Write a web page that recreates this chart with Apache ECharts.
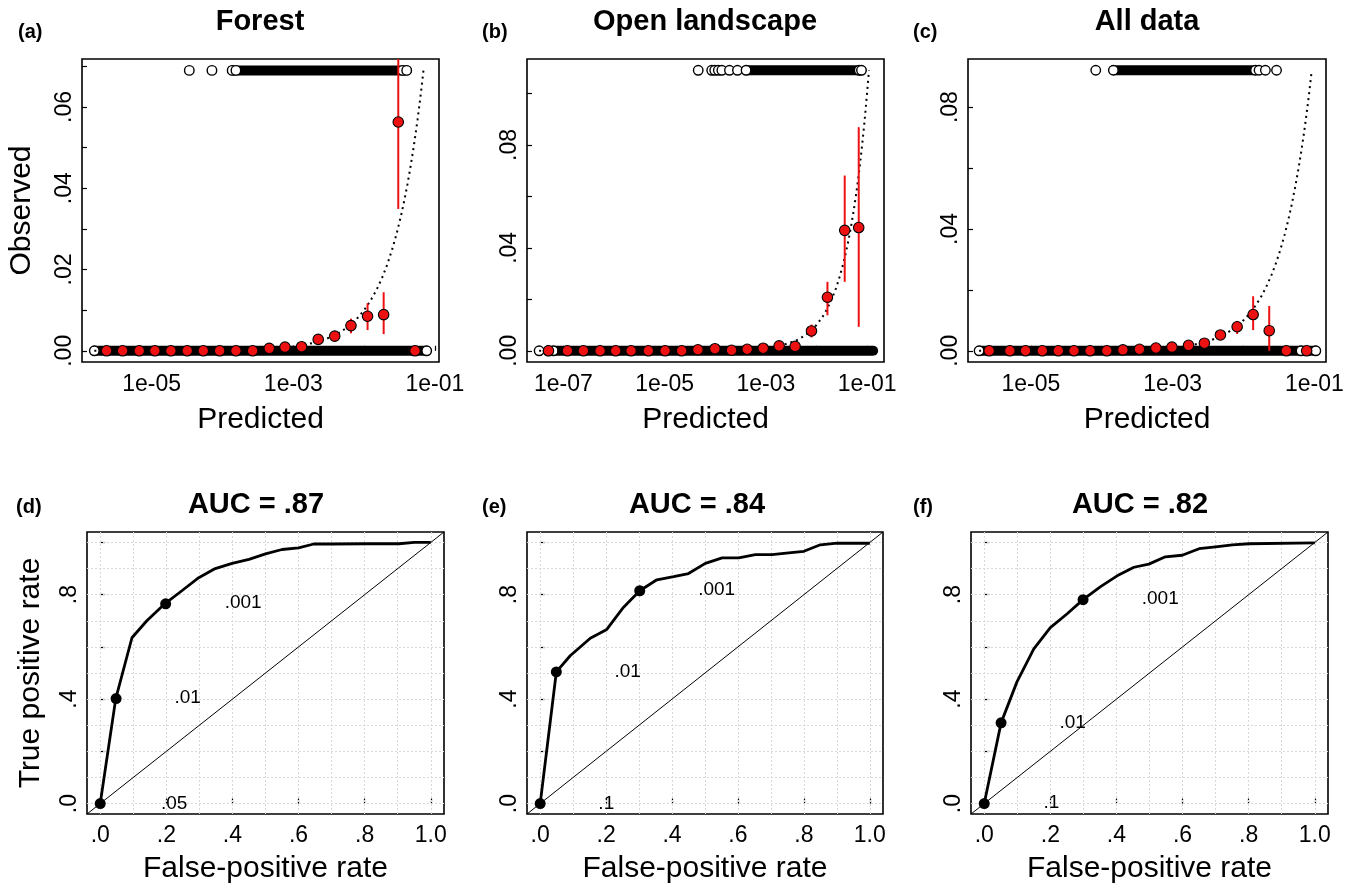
<!DOCTYPE html>
<html>
<head>
<meta charset="utf-8">
<title>Calibration and ROC</title>
<script src="https://cdn.jsdelivr.net/npm/echarts@6/dist/echarts.min.js"></script>
<style>
  html, body { margin: 0; padding: 0; background: #fff; }
  #chart { width: 1354px; height: 885px; }
</style>
</head>
<body>
<div id="chart"></div>
<script>
// ---------- (a) Forest: binned calibration ----------
const binPredA = [2.31e-6, 3.89e-6, 6.68e-6, 1.11e-5, 1.87e-5, 3.18e-5, 5.36e-5, 9.12e-5, 1.55e-4, 2.67e-4,
                  4.58e-4, 7.64e-4, 1.31e-3, 2.25e-3, 3.85e-3, 6.53e-3, 1.12e-2, 1.89e-2, 3.04e-2, 5.24e-2];
const binObsA  = [0, 0, 0, 0, 0, 0, 0, 0, 0, 0,
                  0.0006, 0.0009, 0.0010, 0.0028, 0.0036, 0.0062, 0.0085, 0.0089, 0.0563, 0];
const errLoA   = [null, null, null, null, null, null, null, null, null, null,
                  null, null, null, null, 0.0025, 0.0043, 0.0051, 0.0041, 0.0349, null];
const errHiA   = [null, null, null, null, null, null, null, null, null, null,
                  null, null, null, null, 0.0048, 0.0079, 0.0117, 0.0144, 0.0718, null];
const presRowA = 0.069;
const presBandA = [1.37e-4, 0.040];
const presPtsA  = [3.4e-5, 7.1e-5, 1.37e-4, 1.55e-4, 0.035, 0.040];
const absBandA  = [1.55e-6, 0.0766];
const absPtsA   = [1.55e-6, 0.0766];
const oneToOneA = [1.55e-6, 1e-4, 1e-3, 0.002, 0.003, 0.004, 0.005, 0.006, 0.008, 0.010, 0.012, 0.015,
                   0.018, 0.021, 0.025, 0.029, 0.033, 0.037, 0.041, 0.045, 0.049, 0.053, 0.057, 0.061, 0.065, 0.069];

// ---------- (b) Open landscape ----------
const binPredB = [5.06e-8, 1.20e-7, 2.48e-7, 5.30e-7, 1.08e-6, 2.17e-6, 4.76e-6, 1.02e-5, 2.17e-5, 4.55e-5,
                  9.86e-5, 2.10e-4, 4.28e-4, 8.85e-4, 1.83e-3, 3.79e-3, 7.98e-3, 1.65e-2, 3.62e-2, 6.85e-2];
const binObsB  = [0, 0, 0, 0, 0, 0, 0, 0, 0, 0.0004,
                  0.0008, 0.0002, 0.0006, 0.0010, 0.0019, 0.0017, 0.0077, 0.0208, 0.0468, 0.0479];
const errLoB   = [null, null, null, null, null, null, null, null, null, null,
                  null, null, null, null, null, null, 0.0052, 0.0138, 0.0268, 0.0093];
const errHiB   = [null, null, null, null, null, null, null, null, null, null,
                  null, null, null, null, null, null, 0.0102, 0.0268, 0.0681, 0.0869];
const presRowB = 0.109;
const presBandB = [4.07e-4, 0.0776];
const presPtsB  = [4.61e-5, 8.51e-5, 9.77e-5, 1.15e-4, 1.35e-4, 1.91e-4, 2.75e-4, 4.07e-4, 0.070, 0.0776];
const absBandB  = [6.3e-8, 0.132];
const absPtsB   = [3.31e-8, 5.0e-8, 6.3e-8];
const oneToOneB = [3.31e-8, 1e-4, 1e-3, 0.002, 0.004, 0.006, 0.008, 0.010, 0.013, 0.016, 0.020, 0.024,
                   0.028, 0.033, 0.038, 0.043, 0.048, 0.054, 0.060, 0.066, 0.072, 0.079, 0.086, 0.093, 0.101, 0.109];

// ---------- (c) All data ----------
const binPredC = [2.58e-6, 5.05e-6, 8.41e-6, 1.45e-5, 2.44e-5, 4.06e-5, 6.84e-5, 1.18e-4, 1.99e-4, 3.41e-4,
                  5.82e-4, 9.79e-4, 1.68e-3, 2.81e-3, 4.73e-3, 8.15e-3, 1.37e-2, 2.31e-2, 4.03e-2, 7.80e-2];
const binObsC  = [0, 0, 0, 0, 0, 0, 0, 0, 0.0003, 0.0005,
                  0.0009, 0.0012, 0.0018, 0.0025, 0.0052, 0.0079, 0.0119, 0.0066, 0, 0];
const errLoC   = [null, null, null, null, null, null, null, null, null, null,
                  null, null, null, null, null, 0.0055, 0.0068, 0.0, null, null];
const errHiC   = [null, null, null, null, null, null, null, null, null, null,
                  null, null, null, null, null, 0.0098, 0.0179, 0.0147, null, null];
const presRowC = 0.0921;
const presBandC = [1.46e-4, 0.0148];
const presPtsC  = [8.24e-5, 1.46e-4, 0.0148, 0.0166, 0.0204, 0.0293];
const absBandC  = [1.86e-6, 0.105];
const absPtsC   = [1.86e-6, 0.065, 0.105];
const oneToOneC = [1.86e-6, 1e-4, 1e-3, 0.002, 0.003, 0.004, 0.005, 0.006, 0.008, 0.010, 0.012, 0.015,
                   0.018, 0.021, 0.025, 0.029, 0.033, 0.038, 0.043, 0.048, 0.054, 0.060, 0.066, 0.072,
                   0.078, 0.085, 0.092];

// tick positions / labels, top row
const xTicksAC  = [1e-5, 1e-4, 1e-3, 1e-2, 1e-1];
const xLabelsAC = [1e-5, 1e-3, 1e-1];
const xTicksB   = [1e-7, 1e-6, 1e-5, 1e-4, 1e-3, 1e-2, 1e-1];
const xLabelsB  = [1e-7, 1e-5, 1e-3, 1e-1];
const yTicksA   = [0, 0.01, 0.02, 0.03, 0.04, 0.05, 0.06, 0.07];
const yLabelsA  = [0, 0.02, 0.04, 0.06];
const yTicksB   = [0, 0.02, 0.04, 0.06, 0.08, 0.10];
const yTicksC   = [0, 0.02, 0.04, 0.06, 0.08];
const yLabelsBC = [0, 0.04, 0.08];

// ---------- ROC curves ----------
const fprD = [0, 0.047, 0.096, 0.141, 0.197, 0.247, 0.298, 0.348, 0.399, 0.45, 0.50, 0.55, 0.60, 0.646, 0.70, 0.80, 0.904, 0.95, 1.0];
const tprD = [0, 0.402, 0.635, 0.700, 0.767, 0.815, 0.865, 0.900, 0.920, 0.935, 0.956, 0.973, 0.979, 0.994, 0.994, 0.995, 0.995, 1.0, 1.0];
const fprE = [0, 0.049, 0.091, 0.152, 0.202, 0.253, 0.302, 0.354, 0.405, 0.45, 0.501, 0.552, 0.602, 0.653, 0.703, 0.754, 0.80, 0.85, 0.901, 1.0];
const tprE = [0, 0.504, 0.566, 0.633, 0.667, 0.752, 0.815, 0.857, 0.869, 0.881, 0.920, 0.941, 0.941, 0.953, 0.953, 0.960, 0.966, 0.991, 0.997, 0.997];
const fprF = [0, 0.051, 0.099, 0.15, 0.20, 0.251, 0.299, 0.352, 0.402, 0.453, 0.498, 0.548, 0.599, 0.65, 0.70, 0.751, 0.801, 1.0];
const tprF = [0, 0.309, 0.466, 0.592, 0.674, 0.727, 0.781, 0.831, 0.872, 0.905, 0.917, 0.945, 0.951, 0.976, 0.983, 0.991, 0.995, 0.998];

// threshold points and their labels
const cutFprD = [0, 0.048, 0.198], cutTprD = [0, 0.402, 0.765];
const cutFprE = [0, 0.049, 0.302], cutTprE = [0, 0.504, 0.815];
const cutFprF = [0, 0.051, 0.299], cutTprF = [0, 0.309, 0.781];
const cutTextD = ['.05', '.01', '.001'];
const cutTextEF = ['.1', '.01', '.001'];
const labXD = [0.225, 0.266, 0.434], labYD = [-0.004, 0.402, 0.767];
const labXE = [0.202, 0.267, 0.537], labYE = [-0.003, 0.504, 0.815];
const labXF = [0.205, 0.269, 0.534], labYF = [0.0, 0.309, 0.781];

const rocTicks  = [0, 0.2, 0.4, 0.6, 0.8, 1.0];
const rocYLabels = [0, 0.4, 0.8];
const rocGridVals = [0, 0.1, 0.2, 0.3, 0.4, 0.5, 0.6, 0.7, 0.8, 0.9, 1.0];
const rocRange = [-0.04, 1.04];

const FONT = '"Liberation Sans", Arial, Helvetica, sans-serif';
const RED = '#ee1111';
const TICK_FS = 23, NAME_FS = 30;

function expLabel(v) {
  const e = Math.round(Math.log10(v));
  return '1e' + (e < 0 ? '-' : '+') + String(Math.abs(e)).padStart(2, '0');
}
function dotLabel(digits) {
  return v => v === 1 ? '1.0' : v.toFixed(digits).replace(/^0/, '');
}

var chart = echarts.init(document.getElementById('chart'), null, { renderer: 'canvas' });

var grids = [], xAxes = [], yAxes = [], series = [];

function calPanel(cfg) {
  var i = grids.length;
  grids.push(Object.assign({ show: true, borderColor: '#000', borderWidth: 1.6, backgroundColor: '#fff' }, cfg.box));
  xAxes.push({
    gridIndex: i, type: 'log', logBase: 10, min: cfg.xRange[0], max: cfg.xRange[1],
    axisLine: { show: false },
    axisTick: { show: true, inside: true, length: 5, customValues: cfg.xTicks, lineStyle: { color: '#000', width: 1.2 } },
    axisLabel: { customValues: cfg.xLabels, formatter: expLabel, color: '#000', fontSize: TICK_FS, fontFamily: FONT, margin: 11 },
    splitLine: { show: false }, minorTick: { show: false },
    name: 'Predicted', nameLocation: 'middle', nameGap: 43,
    nameTextStyle: { color: '#000', fontSize: NAME_FS, fontFamily: FONT }
  });
  yAxes.push({
    gridIndex: i, type: 'value', min: cfg.yRange[0], max: cfg.yRange[1],
    axisLine: { show: false },
    axisTick: { show: true, inside: true, length: 5, customValues: cfg.yTicks, lineStyle: { color: '#000', width: 1.2 } },
    axisLabel: { customValues: cfg.yLabels, formatter: dotLabel(2), rotate: 90, color: '#000', fontSize: TICK_FS, fontFamily: FONT, margin: 6 },
    splitLine: { show: false },
    name: cfg.yName || '', nameLocation: 'middle', nameRotate: 90, nameGap: 45,
    nameTextStyle: { color: '#000', fontSize: NAME_FS, fontFamily: FONT }
  });
  var ax = { xAxisIndex: i, yAxisIndex: i, silent: true };
  series.push(Object.assign({
    type: 'line', z: 2, symbol: 'none',
    data: [[cfg.absBand[0], 0], [cfg.absBand[1], 0]],
    lineStyle: { color: '#000', width: 10, cap: 'round' }
  }, ax));
  series.push(Object.assign({
    type: 'line', z: 2, symbol: 'none',
    data: [[cfg.presBand[0], cfg.presRow], [cfg.presBand[1], cfg.presRow]],
    lineStyle: { color: '#000', width: 10, cap: 'round' }
  }, ax));
  series.push(Object.assign({
    type: 'scatter', z: 3, symbolSize: 9.5,
    data: cfg.absPts.map(x => [x, 0]).concat(cfg.presPts.map(x => [x, cfg.presRow])),
    itemStyle: { color: '#fff', borderColor: '#000', borderWidth: 1.4, opacity: 1 }
  }, ax));
  series.push(Object.assign({
    type: 'line', z: 4, symbol: 'none',
    data: cfg.diag.map(v => [v, v]),
    lineStyle: { color: '#000', width: 2, type: [2, 4] }
  }, ax));
  var bars = [];
  cfg.pred.forEach((x, k) => { if (cfg.lo[k] != null) bars.push([x, cfg.lo[k], cfg.hi[k]]); });
  series.push(Object.assign({
    type: 'custom', z: 5, clip: true,
    data: bars,
    encode: { x: 0, y: [1, 2] },
    renderItem: function (params, api) {
      var p0 = api.coord([api.value(0), api.value(1)]);
      var p1 = api.coord([api.value(0), api.value(2)]);
      return { type: 'line', shape: { x1: p0[0], y1: p0[1], x2: p1[0], y2: p1[1] }, style: { stroke: RED, lineWidth: 2 } };
    }
  }, ax));
  series.push(Object.assign({
    type: 'scatter', z: 6, symbolSize: 10.5,
    data: cfg.pred.map((x, k) => [x, cfg.obs[k]]),
    itemStyle: { color: RED, borderColor: '#000', borderWidth: 1.1, opacity: 1 }
  }, ax));
}

function rocPanel(cfg) {
  var i = grids.length;
  grids.push(Object.assign({ show: true, borderColor: '#000', borderWidth: 1.6, backgroundColor: '#fff' }, cfg.box));
  xAxes.push({
    gridIndex: i, type: 'value', min: rocRange[0], max: rocRange[1],
    axisLine: { show: false },
    axisTick: { show: true, inside: true, length: 5, customValues: rocTicks, lineStyle: { color: '#000', width: 1.2 } },
    axisLabel: { customValues: rocTicks, formatter: dotLabel(1), color: '#000', fontSize: TICK_FS, fontFamily: FONT, margin: 10 },
    splitLine: { show: false },
    name: 'False-positive rate', nameLocation: 'middle', nameGap: 40,
    nameTextStyle: { color: '#000', fontSize: NAME_FS, fontFamily: FONT }
  });
  yAxes.push({
    gridIndex: i, type: 'value', min: rocRange[0], max: rocRange[1],
    axisLine: { show: false },
    axisTick: { show: true, inside: true, length: 5, customValues: rocTicks, lineStyle: { color: '#000', width: 1.2 } },
    axisLabel: { customValues: rocYLabels, formatter: dotLabel(1), rotate: 90, color: '#000', fontSize: TICK_FS, fontFamily: FONT, margin: 6 },
    splitLine: { show: false },
    name: cfg.yName || '', nameLocation: 'middle', nameRotate: 90, nameGap: 41,
    nameTextStyle: { color: '#000', fontSize: NAME_FS, fontFamily: FONT }
  });
  var ax = { xAxisIndex: i, yAxisIndex: i, silent: true };
  // light dotted reference grid, kept under the curves
  series.push(Object.assign({
    type: 'line', z: 1, data: [],
    markLine: {
      silent: true, z: 1, symbol: 'none', label: { show: false }, animation: false,
      lineStyle: { color: '#d8d8d8', type: [2, 2], width: 1 },
      emphasis: { disabled: true },
      data: rocGridVals.map(v => ({ xAxis: v })).concat(rocGridVals.map(v => ({ yAxis: v })))
    }
  }, ax));
  // 1:1 diagonal across the whole box
  series.push(Object.assign({
    type: 'line', z: 2, symbol: 'none',
    data: [[rocRange[0], rocRange[0]], [rocRange[1], rocRange[1]]],
    lineStyle: { color: '#000', width: 1 }
  }, ax));
  series.push(Object.assign({
    type: 'line', z: 3, symbol: 'none',
    data: cfg.fpr.map((x, k) => [x, cfg.tpr[k]]),
    lineStyle: { color: '#000', width: 2.8, join: 'round' }
  }, ax));
  series.push(Object.assign({
    type: 'scatter', z: 4, symbolSize: 11,
    data: cfg.cutFpr.map((x, k) => [x, cfg.cutTpr[k]]),
    itemStyle: { color: '#000', borderWidth: 0, opacity: 1 }
  }, ax));
  series.push(Object.assign({
    type: 'scatter', z: 5, symbolSize: 1,
    data: cfg.labX.map((x, k) => ({ value: [x, cfg.labY[k]], name: cfg.text[k] })),
    itemStyle: { color: 'rgba(255,255,255,0)' },
    label: { show: true, position: [0, 0], align: 'center', verticalAlign: 'middle', formatter: '{b}',
             color: '#000', opacity: 1, textBorderWidth: 0, fontSize: 19, fontFamily: FONT }
  }, ax));
}

calPanel({ box: { left: 82, top: 59, width: 357, height: 303 }, xRange: [1.038e-6, 0.1143], yRange: [-0.00276, 0.0718],
  xTicks: xTicksAC, xLabels: xLabelsAC, yTicks: yTicksA, yLabels: yLabelsA, yName: 'Observed',
  pred: binPredA, obs: binObsA, lo: errLoA, hi: errHiA, presRow: presRowA, presBand: presBandA, presPts: presPtsA,
  absBand: absBandA, absPts: absPtsA, diag: oneToOneA });
calPanel({ box: { left: 527, top: 59, width: 357, height: 303 }, xRange: [1.905e-8, 0.2163], yRange: [-0.00436, 0.1134],
  xTicks: xTicksB, xLabels: xLabelsB, yTicks: yTicksB, yLabels: yLabelsBC,
  pred: binPredB, obs: binObsB, lo: errLoB, hi: errHiB, presRow: presRowB, presBand: presBandB, presPts: presPtsB,
  absBand: absBandB, absPts: absPtsB, diag: oneToOneB });
calPanel({ box: { left: 968, top: 59, width: 358, height: 303 }, xRange: [1.297e-6, 0.1462], yRange: [-0.00368, 0.0958],
  xTicks: xTicksAC, xLabels: xLabelsAC, yTicks: yTicksC, yLabels: yLabelsBC,
  pred: binPredC, obs: binObsC, lo: errLoC, hi: errHiC, presRow: presRowC, presBand: presBandC, presPts: presPtsC,
  absBand: absBandC, absPts: absPtsC, diag: oneToOneC });

rocPanel({ box: { left: 87, top: 532, width: 357, height: 286 }, yName: 'True positive rate',
  fpr: fprD, tpr: tprD, cutFpr: cutFprD, cutTpr: cutTprD, labX: labXD, labY: labYD, text: cutTextD });
rocPanel({ box: { left: 527, top: 532, width: 356, height: 286 },
  fpr: fprE, tpr: tprE, cutFpr: cutFprE, cutTpr: cutTprE, labX: labXE, labY: labYE, text: cutTextEF });
rocPanel({ box: { left: 971, top: 532, width: 357, height: 286 },
  fpr: fprF, tpr: tprF, cutFpr: cutFprF, cutTpr: cutTprF, labX: labXF, labY: labYF, text: cutTextEF });

function txt(x, y, s, font, align) {
  return { type: 'text', x: x, y: y, silent: true,
    style: { text: s, font: font, fill: '#000', align: align || 'center', verticalAlign: 'middle' } };
}
var TITLE = 'bold 29px ' + FONT, TAG = 'bold 20px ' + FONT;

chart.setOption({
  animation: false,
  backgroundColor: '#fff',
  grid: grids,
  xAxis: xAxes,
  yAxis: yAxes,
  series: series,
  graphic: [
    txt(260, 22, 'Forest', TITLE), txt(705, 22, 'Open landscape', TITLE), txt(1147, 22, 'All data', TITLE),
    txt(18, 32, '(a)', TAG, 'left'), txt(482, 32, '(b)', TAG, 'left'), txt(913, 32, '(c)', TAG, 'left'),
    txt(256, 505, 'AUC = .87', TITLE), txt(697, 505, 'AUC = .84', TITLE), txt(1140, 505, 'AUC = .82', TITLE),
    txt(16, 507, '(d)', TAG, 'left'), txt(482, 507, '(e)', TAG, 'left'), txt(913, 507, '(f)', TAG, 'left')
  ]
});
</script>
</body>
</html>
